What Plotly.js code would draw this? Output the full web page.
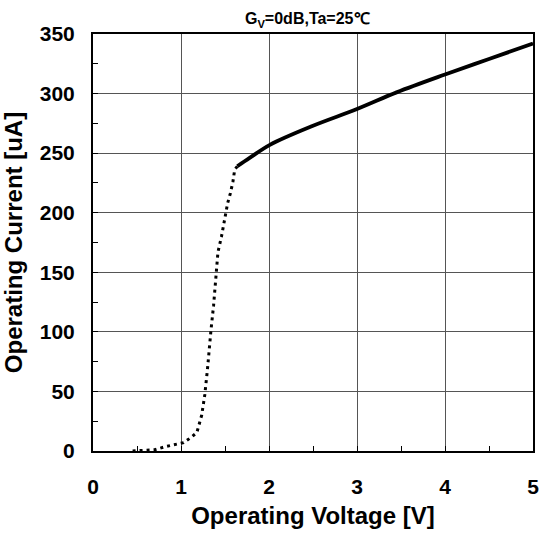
<!DOCTYPE html>
<html><head><meta charset="utf-8">
<script src="https://cdn.plot.ly/plotly-3.0.1.min.js"></script>
<style>html,body{margin:0;padding:0;background:#fff}#c{width:539px;height:539px}</style>
</head><body><div id="c"></div>
<script>
var lowV = [0.45, 0.7, 0.82, 0.95, 1.03, 1.10, 1.18, 1.235, 1.27, 1.30, 1.32, 1.34, 1.37, 1.40, 1.42, 1.46, 1.48, 1.50, 1.53, 1.56, 1.59, 1.61, 1.64];
var lowI = [0, 1, 3.6, 5.5, 7, 10.6, 15.4, 30, 47, 68, 88, 101, 122, 146, 167, 180, 189, 198, 208, 216, 226, 236, 239];
var highV = [1.64, 1.78, 2.01, 2.5, 3.0, 3.45, 4.0, 4.5, 5.0];
var highI = [239, 246, 257, 273, 287, 301, 316, 329, 342];
var xTicks = [0, 1, 2, 3, 4, 5];
var yTicks = [0, 50, 100, 150, 200, 250, 300, 350];

var font = "Liberation Sans, Arial, sans-serif";
var traces = [
  {x: lowV, y: lowI, mode: 'lines', line: {color: '#000', width: 3, dash: '3px,4px'}, hoverinfo: 'skip'},
  {x: highV, y: highI, mode: 'lines', line: {color: '#000', width: 3.8, shape: 'spline'}, hoverinfo: 'skip'}
];
var layout = {
  width: 539, height: 539,
  margin: {l: 93, r: 6, t: 34, b: 88},
  paper_bgcolor: '#fff', plot_bgcolor: '#fff',
  showlegend: false,
  title: {text: '<b>G<sub>V</sub>=0dB,Ta=25℃</b>', font: {family: font, size: 16, color: '#000'}, x: 0.57, xanchor: 'center', y: 0.965, yanchor: 'middle'},
  xaxis: {
    range: [0, 5], tickvals: xTicks, ticktext: xTicks.map(String),
    showgrid: true, gridcolor: '#555', gridwidth: 1,
    showline: true, linecolor: '#000', linewidth: 2, mirror: true,
    ticks: 'inside', ticklen: 0, zeroline: false,
    ticklabelstandoff: 16, ticklabeloverflow: 'allow',
    tickfont: {family: font, size: 21, color: '#000', weight: 'bold'},
    minor: {dtick: 0.5, tick0: 0, ticks: 'inside', ticklen: 5, tickcolor: '#000', showgrid: false},
    title: {text: '<b>Operating Voltage [V]</b>', font: {family: font, size: 24, color: '#000'}, standoff: 10}
  },
  yaxis: {
    range: [0, 350], tickvals: yTicks, ticktext: yTicks.map(String),
    showgrid: true, gridcolor: '#555', gridwidth: 1,
    showline: true, linecolor: '#000', linewidth: 2, mirror: true,
    ticks: 'inside', ticklen: 0, zeroline: false,
    ticklabelstandoff: 12, ticklabeloverflow: 'allow',
    tickfont: {family: font, size: 21, color: '#000', weight: 'bold'},
    minor: {dtick: 25, tick0: 0, ticks: 'inside', ticklen: 5, tickcolor: '#000', showgrid: false},
    title: {text: '<b>Operating Current [uA]</b>', font: {family: font, size: 24, color: '#000'}, standoff: 10}
  }
};
Plotly.newPlot('c', traces, layout, {displayModeBar: false, staticPlot: true});
</script></body></html>
